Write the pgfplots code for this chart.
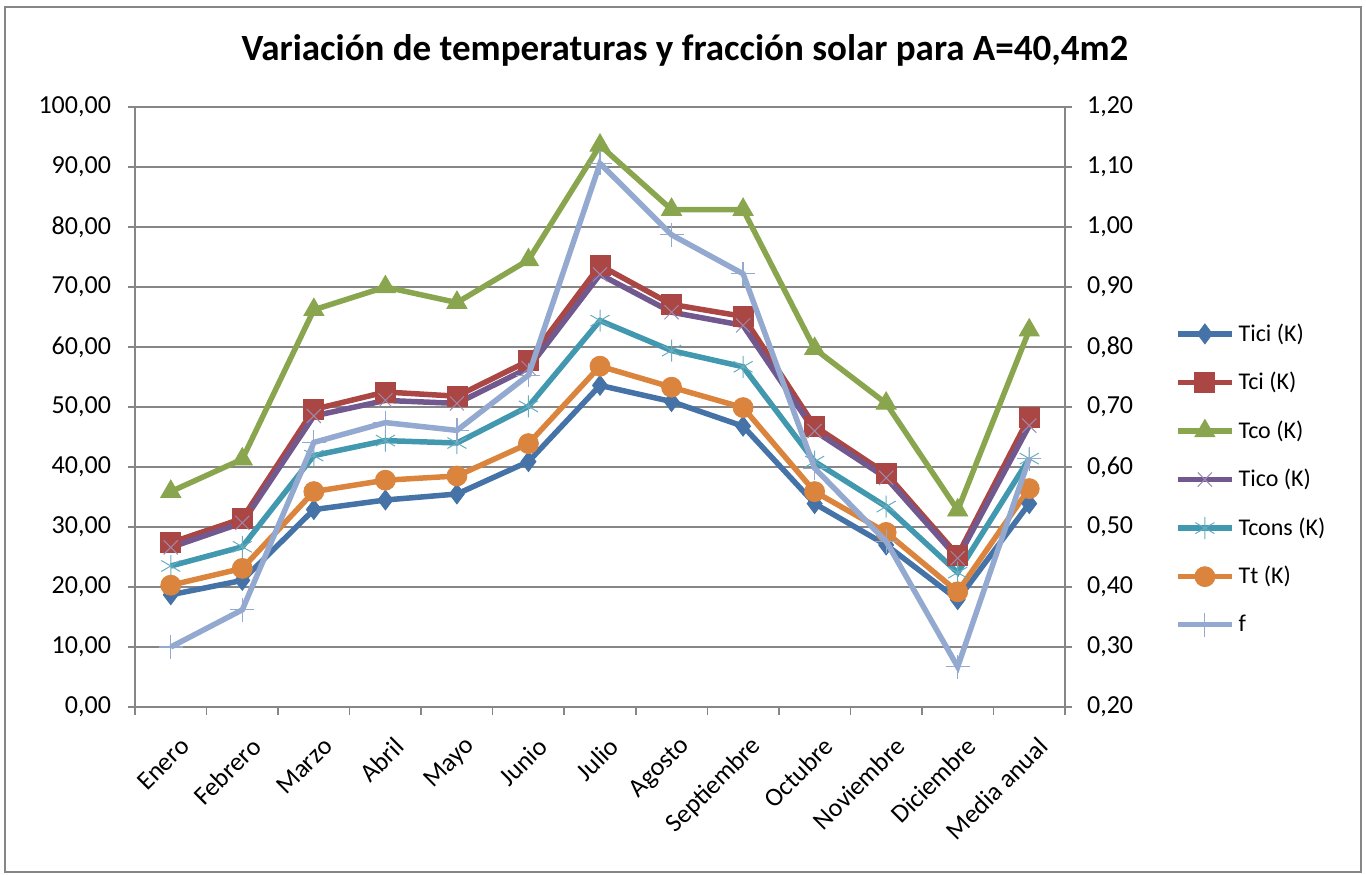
\documentclass[border=0pt]{standalone}
\usepackage{fontspec}
\setmainfont{Carlito}
\usepackage{pgfplots}
\usepackage{pgfplotstable}
\pgfplotsset{compat=1.18}

\definecolor{axgray}{RGB}{134,134,134}
\definecolor{cTici}{RGB}{69,114,167}
\definecolor{cTci}{RGB}{170,70,67}
\definecolor{cTco}{RGB}{137,165,78}
\definecolor{cTico}{RGB}{113,88,143}
\definecolor{cTcons}{RGB}{65,152,175}
\definecolor{cTt}{RGB}{219,132,61}
\definecolor{cf}{RGB}{147,169,207}

\pgfplotstableread{
x  Tici Tci  Tco  Tico Tcons Tt   f
0  18.7 27.4 35.9 26.6 23.5  20.3 0.300
1  21.1 31.4 41.3 30.7 26.7  23.1 0.362
2  32.9 49.6 66.2 48.5 41.9  35.9 0.641
3  34.5 52.5 70.0 51.1 44.4  37.8 0.674
4  35.5 51.8 67.4 50.6 44.0  38.5 0.661
5  40.9 57.7 74.5 56.5 50.1  43.9 0.753
6  53.6 73.6 93.6 72.1 64.4  56.8 1.106
7  50.9 67.1 82.9 65.8 59.4  53.3 0.987
8  46.8 65.1 82.9 63.6 56.7  49.9 0.922
9  33.9 46.8 59.7 46.0 40.9  35.9 0.598
10 27.0 38.9 50.6 38.2 33.4  29.1 0.476
11 17.9 25.3 32.8 24.8 22.4  19.2 0.267
12 33.9 48.3 62.8 46.9 41.4  36.4 0.614
}\datos

\tikzset{
  sTici/.style={color=cTici, line width=2.75pt, mark=diamond*, mark size=5pt, mark options={solid, line width=0.4pt}},
  sTci/.style={color=cTci, line width=2.75pt, mark=square*, mark size=5pt, mark options={solid, line width=0.4pt}},
  sTco/.style={color=cTco, line width=2.75pt, mark=triangle*, mark size=5.8pt, mark options={solid, line width=0.4pt}},
  sTico/.style={color=cTico, line width=2.75pt, mark=x, mark size=5pt, mark options={solid, line width=0.5pt, color=cTico!70!white}},
  sTcons/.style={color=cTcons, line width=2.75pt, mark=asterisk, mark size=5.5pt, mark options={solid, line width=0.5pt, color=cTcons!80!white}},
  sTt/.style={color=cTt, line width=2.75pt, mark=*, mark size=5pt, mark options={solid, line width=0.4pt}},
  sf/.style={color=cf, line width=2.75pt, mark=+, mark size=6pt, mark options={solid, line width=0.6pt}},
}

\pgfplotsset{
  common/.style={
    at={(67.5pt,83.5pt)}, anchor=south west,
    scale only axis, width=465pt, height=300pt,
    xmin=-0.5, xmax=12.5,
    tick align=outside,
    axis line style={axgray, line width=1.2pt, -},
    tick style={axgray, line width=0.8pt},
    /pgf/number format/assume math mode=true,
    tick label style={font=\fontsize{13}{15}\selectfont},
    clip=false,
  }
}

\begin{document}
\begin{tikzpicture}
\useasboundingbox (0,0) rectangle (683pt,437pt);
\draw[axgray, line width=1.2pt] (2.5pt,1pt) rectangle (680.5pt,433.5pt);
\node[anchor=base, font=\bfseries\fontsize{18.5}{21}\selectfont] at (342.5pt,406.5pt)
  {Variación de temperaturas y fracción solar para A=40,4m2};

\begin{axis}[common,
  axis x line*=bottom, axis y line*=left,
  ymin=0, ymax=100, ytick={0,10,...,100},
  ymajorgrids, grid style={axgray, line width=0.6pt},
  major tick length=3.5pt,
  yticklabel={\pgfmathprintnumber[fixed, fixed zerofill, precision=2, use comma]{\tick}},
  yticklabel style={xshift=-5pt},
  xtick={0,...,12},
  xticklabels={Enero,Febrero,Marzo,Abril,Mayo,Junio,Julio,Agosto,Septiembre,Octubre,Noviembre,Diciembre,Media anual},
  major x tick style={draw=none},
  minor xtick={-0.5,0.5,...,12.5},
  minor tick length=4pt,
  minor x tick style={axgray, line width=0.8pt},
  xticklabel style={rotate=45, anchor=east, xshift=-1.5pt, yshift=-15pt},
]
\addplot[sTici] table[x=x, y=Tici] {\datos};
\addplot[sTci] table[x=x, y=Tci] {\datos};
\addplot[sTco] table[x=x, y=Tco] {\datos};
\addplot[sTico] table[x=x, y=Tico] {\datos};
\addplot[sTcons] table[x=x, y=Tcons] {\datos};
\addplot[sTt] table[x=x, y=Tt] {\datos};
\end{axis}

\begin{axis}[common,
  axis x line=none, axis y line*=right,
  ymin=0.2, ymax=1.2,
  ytick={0.2,0.3,0.4,0.5,0.6,0.7,0.8,0.9,1.0,1.1,1.2},
  major tick length=3.5pt,
  yticklabel={\pgfmathprintnumber[fixed, fixed zerofill, precision=2, use comma]{\tick}},
  yticklabel style={xshift=4pt},
  legend style={at={(axis description cs:1.118,0.38)}, anchor=west, draw=none, fill=none,
    font=\fontsize{12}{14}\selectfont, row sep=10pt, inner sep=0pt,
    /tikz/every even column/.append style={column sep=3pt}},
  legend cell align=left,
  legend image code/.code={
    \draw[mark repeat=2, mark phase=2] plot coordinates {(0pt,0pt) (13.5pt,0pt) (27pt,0pt)};
  },
]
\addlegendimage{sTici}
\addlegendentry{Tici (K)}
\addlegendimage{sTci}
\addlegendentry{Tci (K)}
\addlegendimage{sTco}
\addlegendentry{Tco (K)}
\addlegendimage{sTico}
\addlegendentry{Tico (K)}
\addlegendimage{sTcons}
\addlegendentry{Tcons (K)}
\addlegendimage{sTt}
\addlegendentry{Tt (K)}
\addplot[sf] table[x=x, y=f] {\datos};
\addlegendentry{f}
\end{axis}
\end{tikzpicture}
\end{document}
